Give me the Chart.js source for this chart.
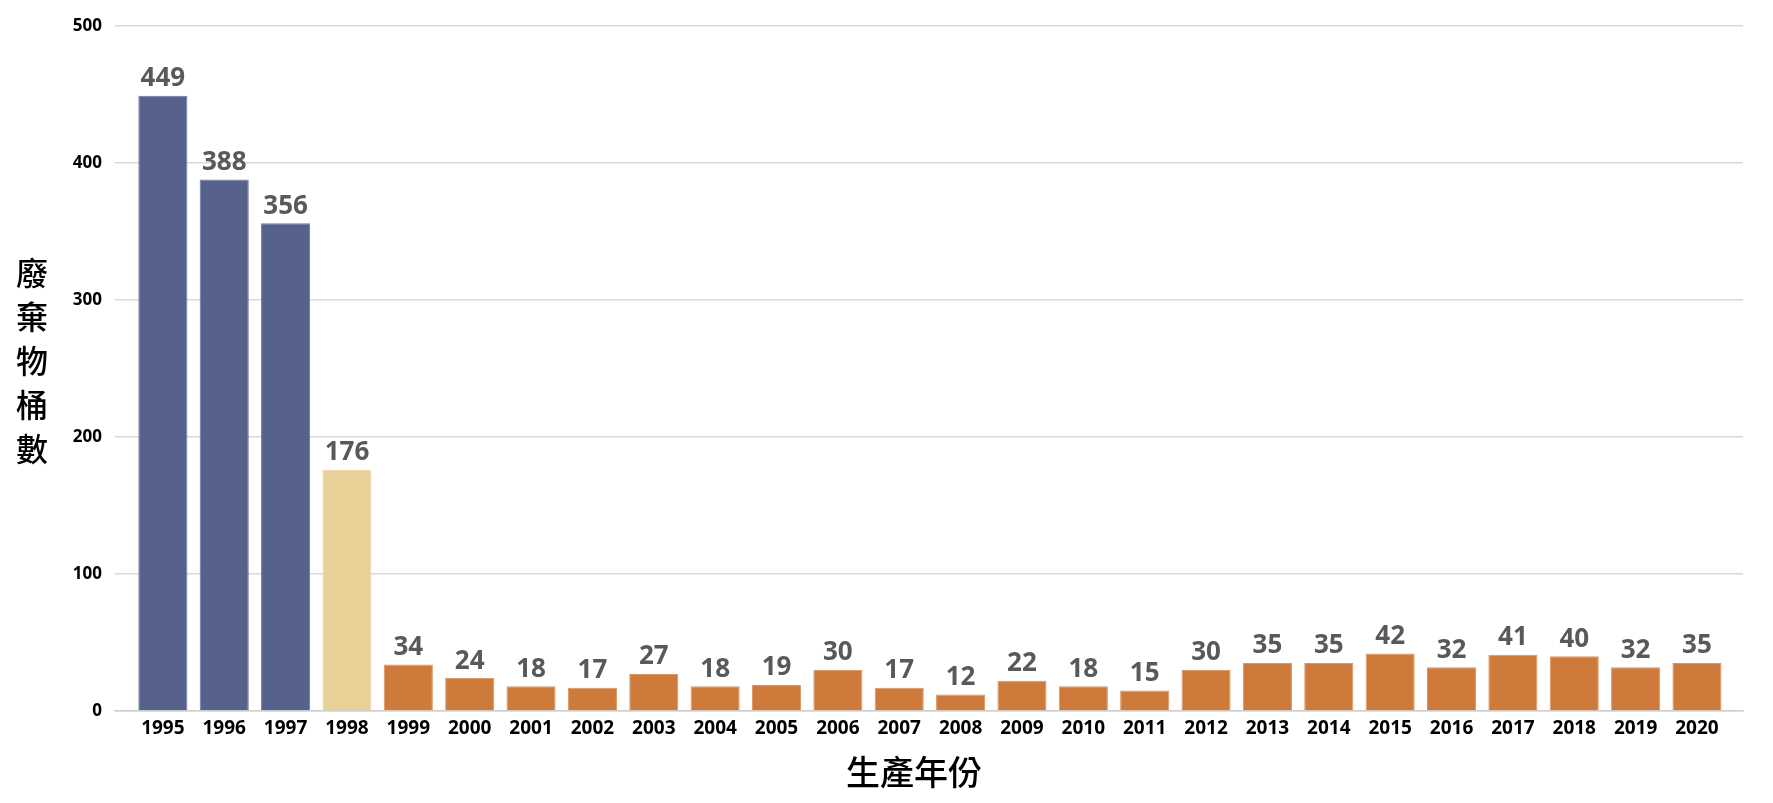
<!DOCTYPE html>
<html>
<head>
<meta charset="utf-8">
<title>廢棄物桶數</title>
<script src="https://cdn.jsdelivr.net/npm/chart.js@4/dist/chart.umd.min.js"></script>
<style>
    html, body { margin: 0; padding: 0; background: #ffffff; }
    #wrap { width: 1773px; height: 803px; }
</style>
</head>
<body>
<div id="wrap"><canvas id="barrelChart" width="1773" height="803"></canvas></div>
<script>
// Data
const years = [1995, 1996, 1997, 1998, 1999, 2000, 2001, 2002, 2003, 2004, 2005, 2006, 2007,
               2008, 2009, 2010, 2011, 2012, 2013, 2014, 2015, 2016, 2017, 2018, 2019, 2020];
const barrels = [449, 388, 356, 176, 34, 24, 18, 17, 27, 18, 19, 30, 17,
                 12, 22, 18, 15, 30, 35, 35, 42, 32, 41, 40, 32, 35];
const yTicks = [0, 100, 200, 300, 400, 500];
const yTitle = '廢棄物桶數';
const xTitle = '生產年份';

const labelFont = '"Open Sans", "Noto Sans CJK TC", sans-serif';
const cjkFont = '"Noto Sans CJK TC", "Noto Sans", sans-serif';

function barColor(year) {
    if (year < 1998) return '#56628c';
    if (year === 1998) return '#e8d196';
    return '#cd7a3a';
}
function barEdge(year) {
    if (year < 1998) return '#6b77a0';
    if (year === 1998) return '#efdcaa';
    return '#dc9660';
}

// Values drawn above each bar
const valueLabels = {
    id: 'valueLabels',
    afterDatasetsDraw(chart) {
        const ctx = chart.ctx;
        const meta = chart.getDatasetMeta(0);
        ctx.save();
        ctx.font = 'bold 26px ' + labelFont;
        ctx.fillStyle = '#595959';
        ctx.textAlign = 'center';
        ctx.textBaseline = 'bottom';
        meta.data.forEach(function(bar, i) {
            ctx.fillText(String(barrels[i]), bar.x, bar.y - 4);
        });
        ctx.restore();
    }
};

// Upright stacked y title and the x title
const axisTitles = {
    id: 'axisTitles',
    afterDraw(chart) {
        const ctx = chart.ctx;
        ctx.save();
        ctx.fillStyle = '#000000';
        ctx.textAlign = 'center';
        ctx.textBaseline = 'middle';
        ctx.font = '500 32px ' + cjkFont;
        Array.from(yTitle).forEach(function(ch, i) {
            ctx.fillText(ch, 32, 273 + i * 44);
        });
        ctx.font = '500 34px ' + cjkFont;
        ctx.fillText(xTitle, 914, 772);
        ctx.restore();
    }
};

const ctx = document.getElementById('barrelChart').getContext('2d');
new Chart(ctx, {
    type: 'bar',
    data: {
        datasets: [{
            data: barrels.map(function(v, i) { return { x: i, y: v }; }),
            backgroundColor: years.map(barColor),
            borderColor: years.map(barEdge),
            borderWidth: 1,
            barPercentage: 0.8,
            categoryPercentage: 1.0
        }]
    },
    options: {
        responsive: false,
        devicePixelRatio: 1,
        animation: false,
        layout: {
            padding: { left: 0, right: 30, top: 26, bottom: 0 }
        },
        scales: {
            x: {
                type: 'linear',
                offset: false,
                min: -0.78,
                max: 25.75,
                grid: { display: false, drawTicks: false },
                border: { display: true, color: '#d0d0d0', width: 1.5 },
                afterBuildTicks: function(scale) {
                    scale.ticks = years.map(function(y, i) { return { value: i }; });
                },
                afterFit: function(scale) { scale.height = 92; },
                ticks: {
                    autoSkip: false,
                    maxRotation: 0,
                    padding: 6,
                    color: '#000000',
                    font: { family: labelFont, size: 19, weight: 'bold' },
                    callback: function(value) { return String(years[value]); }
                }
            },
            y: {
                min: 0,
                max: 500,
                afterBuildTicks: function(scale) {
                    scale.ticks = yTicks.map(function(v) { return { value: v }; });
                },
                afterFit: function(scale) { scale.width = 115; },
                grid: { color: '#d9d9d9', lineWidth: 1.5, drawTicks: false },
                border: { display: false },
                ticks: {
                    padding: 13,
                    color: '#000000',
                    font: { family: labelFont, size: 17, weight: 'bold' }
                }
            }
        },
        plugins: {
            legend: { display: false },
            tooltip: { enabled: false }
        }
    },
    plugins: [valueLabels, axisTitles]
});
</script>
</body>
</html>
